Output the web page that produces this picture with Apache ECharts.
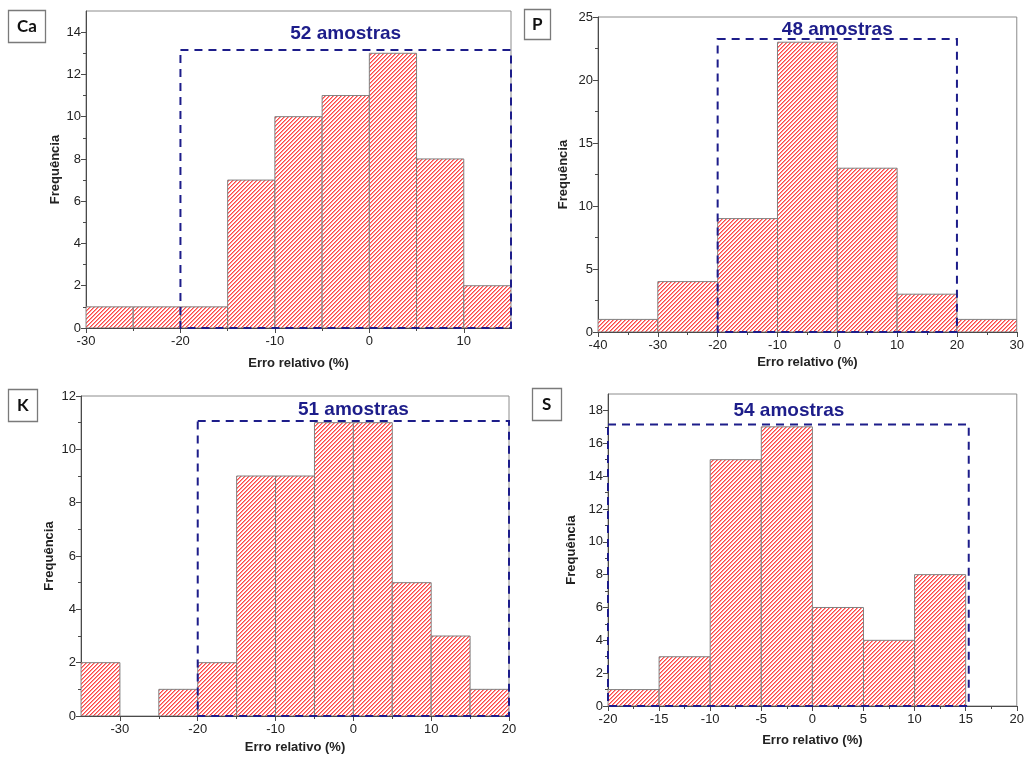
<!DOCTYPE html>
<html>
<head>
<meta charset="utf-8">
<script src="https://cdn.jsdelivr.net/npm/echarts@6/dist/echarts.min.js"></script>
<style>html,body{margin:0;padding:0;background:#fff}#c{width:1027px;height:760px}</style>
</head>
<body>
<div id="c"></div>
<script>
// ---------- DATA ----------
// Ca
const caBinStarts = [-30, -25, -20, -15, -10, -5, 0, 5, 10];
const caCounts    = [1, 1, 1, 7, 10, 11, 13, 8, 2];
const caBinWidth  = 5;
const caXTicks = [-30, -20, -10, 0, 10];
const caXMinor = [-25, -15, -5, 5];
const caYTicks = [0, 2, 4, 6, 8, 10, 12, 14];
const caYMinor = [1, 3, 5, 7, 9, 11, 13];
const caBox = [-20, 15, 13.15];
const caLabel = ['52 amostras', -2.5, 13.9];

// P
const pBinStarts = [-40, -30, -20, -10, 0, 10, 20];
const pCounts    = [1, 4, 9, 23, 13, 3, 1];
const pBinWidth  = 10;
const pXTicks = [-40, -30, -20, -10, 0, 10, 20, 30];
const pXMinor = [-35, -25, -15, -5, 5, 15, 25];
const pYTicks = [0, 5, 10, 15, 20, 25];
const pYMinor = [2.5, 7.5, 12.5, 17.5, 22.5];
const pBox = [-20, 20, 23.25];
const pLabel = ['48 amostras', 0, 24.0];

// K
const kBinStarts = [-35, -30, -25, -20, -15, -10, -5, 0, 5, 10, 15];
const kCounts    = [2, 0, 1, 2, 9, 9, 11, 11, 5, 3, 1];
const kBinWidth  = 5;
const kXTicks = [-30, -20, -10, 0, 10, 20];
const kXMinor = [-25, -15, -5, 5, 15];
const kYTicks = [0, 2, 4, 6, 8, 10, 12];
const kYMinor = [1, 3, 5, 7, 9, 11];
const kBox = [-20, 20, 11.06];
const kLabel = ['51 amostras', 0, 11.5];

// S
const sBinStarts = [-20, -15, -10, -5, 0, 5, 10];
const sCounts    = [1, 3, 15, 17, 6, 4, 8];
const sBinWidth  = 5;
const sXTicks = [-20, -15, -10, -5, 0, 5, 10, 15, 20];
const sXMinor = [-17.5, -12.5, -7.5, -2.5, 2.5, 7.5, 12.5, 17.5];
const sYTicks = [0, 2, 4, 6, 8, 10, 12, 14, 16, 18];
const sYMinor = [1, 3, 5, 7, 9, 11, 13, 15, 17];
const sBox = [-20, 15.3, 17.15];
const sLabel = ['54 amostras', -2.3, 18.0];

const panelNames = ['Ca', 'P', 'K', 'S'];
const xName = 'Erro relativo (%)';
const yName = 'Frequência';

// ---------- STYLE / LAYOUT ----------
const panels = [
  { name: panelNames[0], starts: caBinStarts, counts: caCounts, w: caBinWidth, xT: caXTicks, xM: caXMinor, yT: caYTicks, yM: caYMinor, box: caBox, label: caLabel,
    xMin: -30, xMax: 15, yMax: 15, grid: { left: 86, right: 516, top: 11, bottom: 432 }, xGap: 29, yGap: 24,
    title: { left: 8, top: 10, padding: [8, 9, 8, 9] } },
  { name: panelNames[1], starts: pBinStarts, counts: pCounts, w: pBinWidth, xT: pXTicks, xM: pXMinor, yT: pYTicks, yM: pYMinor, box: pBox, label: pLabel,
    xMin: -40, xMax: 30, yMax: 25, grid: { left: 598, right: 9, top: 17, bottom: 428 }, xGap: 24, yGap: 28,
    title: { left: 524, top: 9, padding: [7, 8, 7, 8] } },
  { name: panelNames[2], starts: kBinStarts, counts: kCounts, w: kBinWidth, xT: kXTicks, xM: kXMinor, yT: kYTicks, yM: kYMinor, box: kBox, label: kLabel,
    xMin: -35, xMax: 20, yMax: 12, grid: { left: 81, right: 518, top: 396, bottom: 44 }, xGap: 25, yGap: 25,
    title: { left: 8, top: 389, padding: [8, 9, 8, 9] } },
  { name: panelNames[3], starts: sBinStarts, counts: sCounts, w: sBinWidth, xT: sXTicks, xM: sXMinor, yT: sYTicks, yM: sYMinor, box: sBox, label: sLabel,
    xMin: -20, xMax: 20, yMax: 19, grid: { left: 608, right: 9, top: 394, bottom: 54 }, xGap: 28, yGap: 30,
    title: { left: 532, top: 388, padding: [8, 10, 8, 10] } }
];

// hatch pattern ("/" stripes, red on white), pixel exact
const tile = 4;
const cv = document.createElement('canvas');
cv.width = tile; cv.height = tile;
const cx = cv.getContext('2d');
const img = cx.createImageData(tile, tile);
for (let y = 0; y < tile; y++) {
  for (let x = 0; x < tile; x++) {
    const k = (y * tile + x) * 4;
    const m = (x + y) % tile;
    let r = 255, g = 255, b = 255;
    if (m === 0) { r = 255; g = 70; b = 70; }
    else if (m === 1) { r = 255; g = 150; b = 150; }
    img.data[k] = r; img.data[k + 1] = g; img.data[k + 2] = b; img.data[k + 3] = 255;
  }
}
cx.putImageData(img, 0, 0);
const hatch = { image: cv, repeat: 'repeat' };

const FONT = '"Liberation Sans", Arial, sans-serif';
const NAVY = '#1d1d8a';
const AXIS = '#4a4a4a';

const grids = [], xAxes = [], yAxes = [], series = [], titles = [];

panels.forEach((p, i) => {
  grids.push(Object.assign({ show: true, borderColor: '#8c8c8c', borderWidth: 1, backgroundColor: 'transparent' }, p.grid));
  titles.push(Object.assign({
    text: p.name, borderColor: '#7a7a7a', borderWidth: 1.3,
    textStyle: { fontFamily: 'Lato, "Open Sans", sans-serif', fontWeight: 'bold', fontSize: 17, color: '#111' }
  }, p.title));

  xAxes.push({
    type: 'value', gridIndex: i, min: p.xMin, max: p.xMax, position: 'bottom',
    name: xName, nameLocation: 'middle', nameGap: p.xGap,
    nameTextStyle: { fontFamily: FONT, fontWeight: 'bold', fontSize: 13, color: '#222' },
    axisLine: { show: true, onZero: false, lineStyle: { color: AXIS, width: 1 } },
    axisTick: { show: true, length: 5, customValues: p.xT, lineStyle: { color: AXIS } },
    axisLabel: { customValues: p.xT, fontFamily: FONT, fontSize: 13, color: '#222', margin: 7 },
    splitLine: { show: false }
  });
  xAxes.push({
    type: 'value', gridIndex: i, min: p.xMin, max: p.xMax, position: 'bottom',
    axisLine: { show: false, onZero: false },
    axisTick: { show: true, length: 3, customValues: p.xM, lineStyle: { color: AXIS } },
    axisLabel: { show: false },
    splitLine: { show: false }
  });
  yAxes.push({
    type: 'value', gridIndex: i, min: 0, max: p.yMax, position: 'left',
    name: yName, nameLocation: 'middle', nameGap: p.yGap,
    nameTextStyle: { fontFamily: FONT, fontWeight: 'bold', fontSize: 13, color: '#222' },
    axisLine: { show: true, onZero: false, lineStyle: { color: AXIS, width: 1 } },
    axisTick: { show: true, length: 5, customValues: p.yT, lineStyle: { color: AXIS } },
    axisLabel: { customValues: p.yT, fontFamily: FONT, fontSize: 13, color: '#222', margin: 5 },
    splitLine: { show: false }
  });
  yAxes.push({
    type: 'value', gridIndex: i, min: 0, max: p.yMax, position: 'left',
    axisLine: { show: false, onZero: false },
    axisTick: { show: true, length: 3, customValues: p.yM, lineStyle: { color: AXIS } },
    axisLabel: { show: false },
    splitLine: { show: false }
  });

  // histogram bars
  series.push({
    type: 'custom', xAxisIndex: 2 * i, yAxisIndex: 2 * i, clip: true,
    data: p.starts.map((s, j) => [s, s + p.w, p.counts[j]]),
    renderItem: function (params, api) {
      const v = api.value(2);
      if (!v) return null;
      const a = api.coord([api.value(0), 0]);
      const b = api.coord([api.value(1), v]);
      return {
        type: 'rect',
        shape: { x: a[0], y: b[1], width: b[0] - a[0], height: a[1] - b[1] },
        style: { fill: hatch, stroke: '#808080', lineWidth: 1 }
      };
    },
    z: 2
  });

  // dashed selection box with sample count label
  series.push({
    type: 'custom', xAxisIndex: 2 * i, yAxisIndex: 2 * i, clip: false,
    data: [[p.box[0], p.box[1], p.box[2], p.label[1], p.label[2]]],
    renderItem: function (params, api) {
      const a = api.coord([api.value(0), 0]);
      const b = api.coord([api.value(1), api.value(2)]);
      const t = api.coord([api.value(3), api.value(4)]);
      return {
        type: 'group',
        children: [
          {
            type: 'rect',
            shape: { x: a[0], y: b[1], width: b[0] - a[0], height: a[1] - b[1] },
            style: { fill: null, stroke: NAVY, lineWidth: 2, lineDash: [8, 6] }
          },
          {
            type: 'text',
            x: t[0], y: t[1],
            style: {
              text: p.label[0], fill: NAVY, align: 'center', verticalAlign: 'middle',
              font: 'bold 19px ' + FONT
            }
          }
        ]
      };
    },
    z: 5
  });
});

const chart = echarts.init(document.getElementById('c'), null, { renderer: 'canvas' });
chart.setOption({
  animation: false,
  backgroundColor: '#ffffff',
  title: titles,
  grid: grids,
  xAxis: xAxes,
  yAxis: yAxes,
  series: series
});
</script>
</body>
</html>
